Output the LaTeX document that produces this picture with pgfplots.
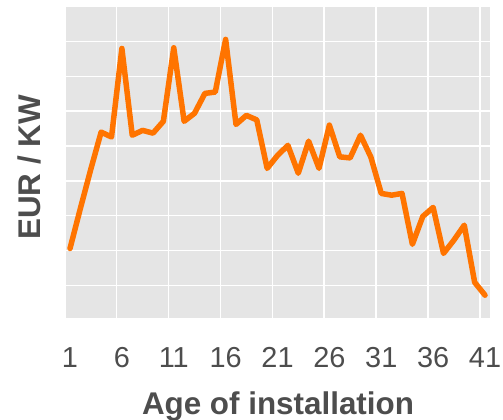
\documentclass[border=0pt]{standalone}
\usepackage{fontspec}
\setmainfont{Liberation Sans}
\usepackage{pgfplots}
\pgfplotsset{compat=1.18}

\definecolor{panelbg}{HTML}{E5E5E5}
\definecolor{txtgray}{HTML}{4D4D4D}
\definecolor{lineorange}{HTML}{FF7400}

\begin{document}
\begin{tikzpicture}
\useasboundingbox (0,0) rectangle (503bp,420bp);
\begin{axis}[
    at={(66bp,102bp)}, anchor=south west,
    width=424bp, height=311bp, scale only axis,
    xmin=0.614, xmax=41.48,
    ymin=0.066, ymax=8.99,
    axis background/.style={fill=panelbg},
    axis line style={draw=none},
    major tick length=0pt, minor tick length=0pt,
    xtick={1,6,...,41},
    minor xtick={5.5,10.5,...,40.5},
    xminorgrids=true,
    ytick={1,2,...,8},
    yticklabels={},
    ymajorgrids=true,
    grid style={white, line width=1.5bp},
    minor grid style={white, line width=1.5bp},
    /pgf/number format/assume math mode=true,
    xticklabel style={font=\fontsize{29}{34}\selectfont, text=txtgray, anchor=base, yshift=-49bp},
    xlabel={Age of installation},
    ylabel={EUR / KW},
    xlabel style={font=\fontsize{31.5}{36}\selectfont\bfseries, text=txtgray,
        at={(axis description cs:0.5,0)}, anchor=base, yshift=-96bp},
    ylabel style={font=\fontsize{31.5}{36}\selectfont\bfseries, text=txtgray,
        at={(axis description cs:-0.0613,0.484)}, anchor=base},
]
\addplot[color=lineorange, line width=5.5bp, line join=round, line cap=round] coordinates {
(1,2.06)(2,3.21)(3,4.33)(4,5.40)(5,5.26)(6,7.80)(7,5.31)(8,5.45)(9,5.37)(10,5.71)
(11,7.82)(12,5.71)(13,5.94)(14,6.51)(15,6.55)(16,8.06)(17,5.62)(18,5.88)(19,5.75)(20,4.36)
(21,4.73)(22,5.02)(23,4.22)(24,5.14)(25,4.36)(26,5.60)(27,4.69)(28,4.66)(29,5.31)(30,4.68)
(31,3.64)(32,3.59)(33,3.64)(34,2.18)(35,2.98)(36,3.24)(37,1.92)(38,2.30)(39,2.73)(40,1.09)
(41,0.72)
};
\end{axis}
\end{tikzpicture}
\end{document}
